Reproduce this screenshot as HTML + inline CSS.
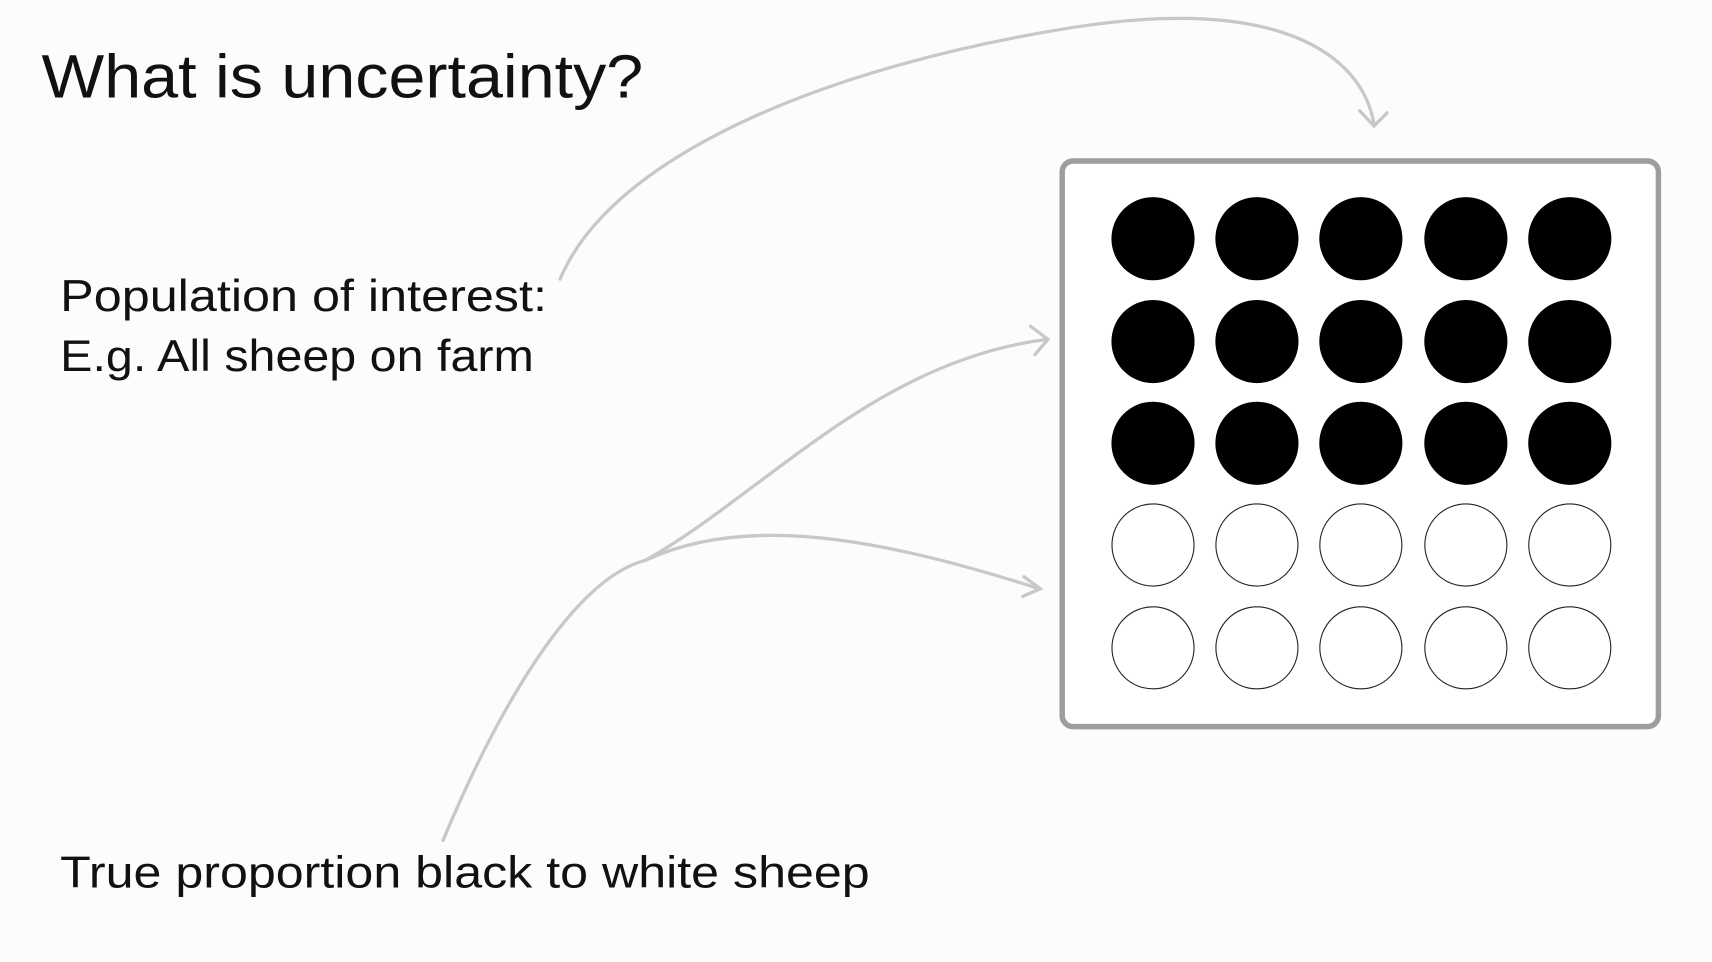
<!DOCTYPE html>
<html><head><meta charset="utf-8"><style>
html,body{margin:0;padding:0;background:#fdfbfd;}
svg{display:block}
text{font-family:"Liberation Sans",sans-serif;fill:#111}
</style></head><body>
<svg width="1712" height="962" viewBox="0 0 1565 879" xmlns="http://www.w3.org/2000/svg">
<rect width="1565" height="879" fill="#fdfbfd"/>
<text x="38" y="89" font-size="56" textLength="550" lengthAdjust="spacingAndGlyphs">What is uncertainty?</text>
<text x="55" y="284" font-size="41" textLength="445" lengthAdjust="spacingAndGlyphs">Population of interest:</text>
<text x="55" y="339" font-size="41" textLength="433" lengthAdjust="spacingAndGlyphs">E.g. All sheep on farm</text>
<text x="55" y="811" font-size="41" textLength="740" lengthAdjust="spacingAndGlyphs">True proportion black to white sheep</text>
<g fill="none" stroke="#c8c8c8" stroke-width="3" stroke-linecap="round">
<path d="M512,255 C560,140 760,60 980,25 C1170,-5 1245,50 1256,113"/>
<path d="M1243,101 L1256,115 L1268,103"/>
<path d="M405,768 C450,660 520,530 590,512"/>
<path d="M590,512 C700,450 800,330 957,310"/>
<path d="M942,298 L958,310 L946,324"/>
<path d="M590,512 C680,470 800,490 950,538"/>
<path d="M936,527 L951,538 L935,545"/>
</g>
<rect x="971" y="147" width="545" height="517" rx="10" fill="#fff" stroke="#9d9d9d" stroke-width="5"/>
<g>
<g fill="#000">
<circle cx="1054" cy="218" r="38"/><circle cx="1149" cy="218" r="38"/><circle cx="1244" cy="218" r="38"/><circle cx="1340" cy="218" r="38"/><circle cx="1435" cy="218" r="38"/>
<circle cx="1054" cy="312" r="38"/><circle cx="1149" cy="312" r="38"/><circle cx="1244" cy="312" r="38"/><circle cx="1340" cy="312" r="38"/><circle cx="1435" cy="312" r="38"/>
<circle cx="1054" cy="405" r="38"/><circle cx="1149" cy="405" r="38"/><circle cx="1244" cy="405" r="38"/><circle cx="1340" cy="405" r="38"/><circle cx="1435" cy="405" r="38"/>
</g>
<g fill="#fff" stroke="#222" stroke-width="1">
<circle cx="1054" cy="498" r="37.5"/><circle cx="1149" cy="498" r="37.5"/><circle cx="1244" cy="498" r="37.5"/><circle cx="1340" cy="498" r="37.5"/><circle cx="1435" cy="498" r="37.5"/>
<circle cx="1054" cy="592" r="37.5"/><circle cx="1149" cy="592" r="37.5"/><circle cx="1244" cy="592" r="37.5"/><circle cx="1340" cy="592" r="37.5"/><circle cx="1435" cy="592" r="37.5"/>
</g>
</g>
</svg>
</body></html>
